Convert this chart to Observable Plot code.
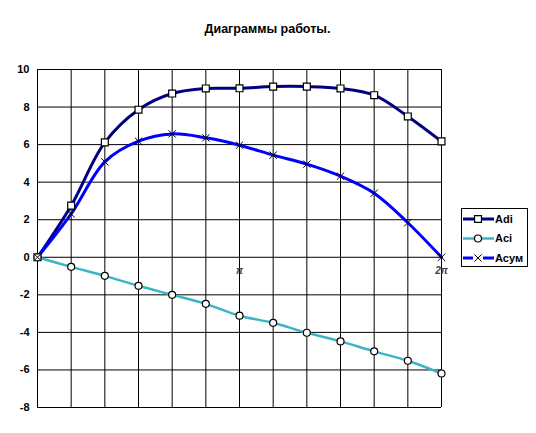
<!DOCTYPE html>
<html>
<head>
<meta charset="utf-8">
<script src="https://cdn.jsdelivr.net/npm/d3@7"></script>
<script src="https://cdn.jsdelivr.net/npm/@observablehq/plot@0.6"></script>
<style>
  html, body { margin: 0; padding: 0; background: #fff; }
  #chart { width: 536px; height: 433px; }
</style>
</head>
<body>
<div id="chart"></div>
<script>
const title = "Диаграммы работы.";
const steps = [0, 1, 2, 3, 4, 5, 6, 7, 8, 9, 10, 11, 12];
const adi  = [0, 2.75, 6.12, 7.86, 8.72, 8.99, 9.0, 9.09, 9.09, 8.99, 8.63, 7.5, 6.17];
const aci  = [0, -0.51, -0.99, -1.52, -2.0, -2.48, -3.11, -3.49, -4.02, -4.48, -5.01, -5.51, -6.19];
const asum = [0, 2.31, 5.08, 6.18, 6.57, 6.36, 5.97, 5.44, 4.96, 4.32, 3.41, 1.84, 0];
const seriesNames = ["Adi", "Aci", "Асум"];
const yTicks = [-8, -6, -4, -2, 0, 2, 4, 6, 8, 10];
const xLabelPos = [6, 12];
const xLabels = ["π", "2π"];

const colors = {"Adi": "#000080", "Aci": "#3cb4c8", "Асум": "#0000ff"};
const rows = (name, vals) => steps.map((s, i) => ({x: s, y: vals[i], s: name}));
const dAdi = rows("Adi", adi), dAci = rows("Aci", aci), dAsum = rows("Асум", asum);
const labelData = xLabelPos.map((p, i) => ({x: p, t: xLabels[i]}));

const font = "'Liberation Sans', Arial, sans-serif";

const plot = Plot.plot({
  width: 536,
  height: 433,
  marginLeft: 37,
  marginRight: 95,
  marginTop: 69,
  marginBottom: 26,
  style: {fontFamily: font, background: "#fff"},
  x: {domain: [0, 12], axis: null},
  y: {domain: [-8, 10], axis: null},
  marks: [
    Plot.ruleY(yTicks, {x1: 0, x2: 12, stroke: "#000", strokeWidth: 1}),
    Plot.ruleX(steps, {y1: -8, y2: 10, stroke: "#000", strokeWidth: 1}),
    Plot.axisY({ticks: yTicks, label: null, tickSize: 0, tickPadding: 8, fontSize: 11, fontWeight: "bold", fill: "#000", tickFormat: d => String(d).replace("−", "-")}),
    Plot.text(labelData, {x: "x", y: 0, text: "t", dy: 14, fontSize: 10, fontWeight: "bold", fill: "#444", fontStyle: "italic"}),
    Plot.line(dAci, {x: "x", y: "y", stroke: colors["Aci"], strokeWidth: 2.5, curve: "catmull-rom"}),
    Plot.line(dAdi, {x: "x", y: "y", stroke: colors["Adi"], strokeWidth: 3, curve: "catmull-rom"}),
    Plot.line(dAsum, {x: "x", y: "y", stroke: colors["Асум"], strokeWidth: 3, curve: "catmull-rom"}),
    Plot.dot(dAci, {x: "x", y: "y", symbol: "circle", r: 3.5, fill: "#fff", stroke: "#000", strokeWidth: 1.2}),
    Plot.dot(dAdi, {x: "x", y: "y", symbol: "square", r: 3.9, fill: "#fff", stroke: "#000", strokeWidth: 1.2}),
    Plot.dot(dAsum, {x: "x", y: "y", symbol: "times", r: 3.4, stroke: "#000", strokeWidth: 1}),
    Plot.text([title], {frameAnchor: "top", dy: -45, dx: 28, fontSize: 12.5, fontWeight: "bold", fill: "#000"})
  ]
});

// Legend drawn into the SVG
const svg = d3.select(plot);
const lg = svg.append("g").attr("font-family", font).attr("text-anchor", "start");
lg.append("rect").attr("x", 461.5).attr("y", 208.5).attr("width", 66).attr("height", 58)
  .attr("fill", "#fff").attr("stroke", "#000").attr("stroke-width", 1);
const symbols = {"Adi": d3.symbolSquare, "Aci": d3.symbolCircle, "Асум": d3.symbolTimes};
const sizes = {"Adi": Math.PI * 3.9 * 3.9, "Aci": Math.PI * 3.5 * 3.5, "Асум": Math.PI * 3.4 * 3.4};
seriesNames.forEach((name, i) => {
  const cy = 219 + i * 19.5;
  lg.append("line").attr("x1", 463).attr("x2", 494).attr("y1", cy).attr("y2", cy)
    .attr("stroke", colors[name]).attr("stroke-width", name === "Aci" ? 2.5 : 3);
  if (name === "Асум") {
    lg.append("rect").attr("x", 473).attr("y", cy - 3).attr("width", 10).attr("height", 6).attr("fill", "#fff");
  }
  lg.append("path").attr("transform", `translate(478,${cy})`)
    .attr("d", d3.symbol(symbols[name], sizes[name])())
    .attr("fill", name === "Асум" ? "none" : "#fff").attr("stroke", "#000").attr("stroke-width", name === "Асум" ? 1 : 1.2);
  lg.append("text").attr("x", 495).attr("y", cy).attr("dy", "0.35em")
    .attr("font-size", 11).attr("font-weight", "bold").attr("fill", "#000").text(name);
});

document.getElementById("chart").appendChild(plot);
</script>
</body>
</html>
